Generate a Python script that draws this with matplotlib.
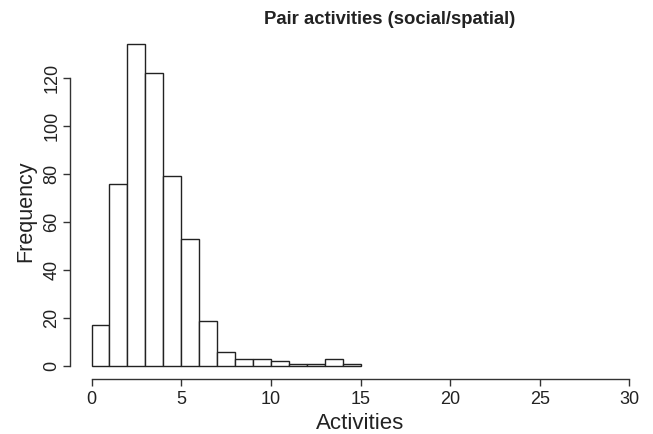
import matplotlib
matplotlib.use("Agg")
import matplotlib.pyplot as plt

plt.rcParams['font.family'] = ['Liberation Sans', 'DejaVu Sans']

# Histogram bins (width 1) and counts
bin_edges = list(range(0, 16))
counts = [17, 76, 134, 122, 79, 53, 19, 6, 3, 3, 2, 1, 1, 3, 1]
x_ticks = [0, 5, 10, 15, 20, 25, 30]
y_ticks = [0, 20, 40, 60, 80, 100, 120]

W, H = 653, 434
fig = plt.figure(figsize=(W / 100, H / 100), dpi=100)
ax = fig.add_axes([70 / W, 1 - 379 / H, (651 - 70) / W, (379 - 31.5) / H])

ax.bar(bin_edges[:-1], counts, width=1, align='edge',
       facecolor='white', edgecolor='#222222', linewidth=1.0)

ax.set_xlim(-1.2, 31.2)
ax.set_ylim(-0.04 * 134, 134 * 1.04)

for s in ('top', 'right'):
    ax.spines[s].set_visible(False)
ax.spines['left'].set_bounds(0, 120)
ax.spines['bottom'].set_bounds(0, 30)
for s in ('left', 'bottom'):
    ax.spines[s].set_color('#333333')
    ax.spines[s].set_linewidth(1.0)

ax.set_xticks(x_ticks)
ax.set_yticks(y_ticks)
ax.tick_params(direction='out', length=5, width=1.0, color='#333333',
               labelsize=13, labelcolor='#222222')
ax.tick_params(axis='x', pad=4)
ax.tick_params(axis='y', pad=2)
for lbl in ax.get_yticklabels():
    lbl.set_rotation(90)
    lbl.set_va('center')

ax.set_xlabel('Activities', fontsize=16, color='#222222', labelpad=3.5)
ax.set_ylabel('Frequency', fontsize=15.5, color='#222222', labelpad=5)
ax.yaxis.label.set_y(0.482)

fig.text(390 / W, 1 - 20 / H, 'Pair activities (social/spatial)',
         ha='center', va='center', fontsize=13.3, fontweight='bold',
         color='#222222')

fig.savefig('out.png', dpi=100)
